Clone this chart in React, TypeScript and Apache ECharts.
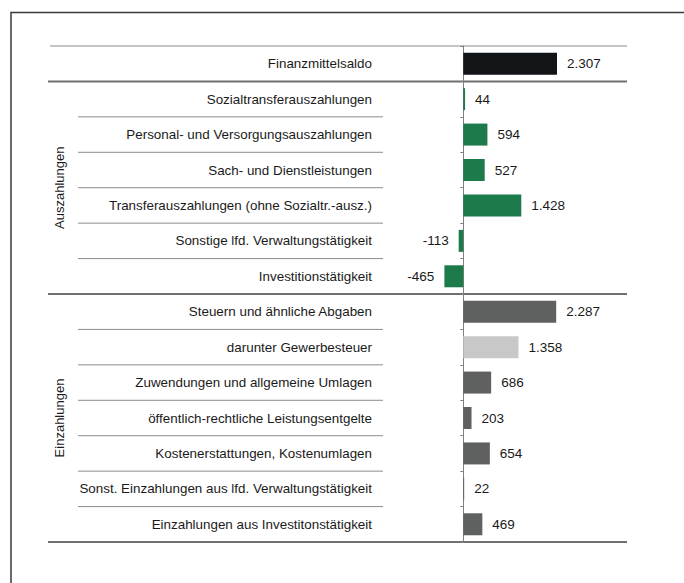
import React, { useEffect, useRef } from "react";
import * as echarts from "echarts";

// ---- data ----
const categories: string[] = [
  "Finanzmittelsaldo",
  "Sozialtransferauszahlungen",
  "Personal- und Versorgungsauszahlungen",
  "Sach- und Dienstleistungen",
  "Transferauszahlungen (ohne Sozialtr.-ausz.)",
  "Sonstige lfd. Verwaltungstätigkeit",
  "Investitionstätigkeit",
  "Steuern und ähnliche Abgaben",
  "darunter Gewerbesteuer",
  "Zuwendungen und allgemeine Umlagen",
  "öffentlich-rechtliche Leistungsentgelte",
  "Kostenerstattungen, Kostenumlagen",
  "Sonst. Einzahlungen aus lfd. Verwaltungstätigkeit",
  "Einzahlungen aus Investitonstätigkeit",
];
const values: number[] = [2307, 44, 594, 527, 1428, -113, -465, 2287, 1358, 686, 203, 654, 22, 469];
const kinds: string[] = [
  "saldo",
  "aus", "aus", "aus", "aus", "aus", "aus",
  "ein", "gew", "ein", "ein", "ein", "ein", "ein",
];
const groupLabels: string[] = ["Auszahlungen", "Einzahlungen"];
const groupFirst: number[] = [1, 7];
const groupLast: number[] = [6, 13];

// ---- styles ----
const palette: Record<string, string> = {
  saldo: "#121518",
  aus: "#1d7a4b",
  ein: "#5f6161",
  gew: "#c7c8c7",
};
const FONT = "'Liberation Sans', Arial, Helvetica, sans-serif";

function fmt(v: number): string {
  const s = String(Math.abs(v)).replace(/\B(?=(\d{3})+(?!\d))/g, ".");
  return (v < 0 ? "-" : "") + s;
}

export default function App() {
  const ref = useRef<HTMLDivElement>(null);
  useEffect(() => {
    if (!ref.current) return;
    const chart = echarts.init(ref.current, null, { renderer: "svg" });
    const option: any = {
      animation: false,
      backgroundColor: "#ffffff",
      grid: { left: 380, right: 57, top: 46, bottom: 41, containLabel: false },
      xAxis: {
        type: "value",
        min: -2050,
        max: 4030,
        show: false,
        splitLine: { show: false },
      },
      yAxis: [
        {
          type: "category",
          data: categories,
          inverse: true,
          position: "left",
          axisLine: { show: false, onZero: false },
          axisTick: { show: false },
          splitLine: { show: false },
          axisLabel: {
            margin: 8,
            fontSize: 13.4,
            color: "#1a1a1a",
            fontFamily: FONT,
          },
        },
        {
          type: "category",
          data: categories,
          inverse: true,
          position: "left",
          axisLine: { show: true, onZero: true, lineStyle: { color: "#808080", width: 1 } },
          axisTick: { show: true, length: 3, lineStyle: { color: "#808080", width: 1 } },
          axisLabel: { show: false },
          splitLine: { show: false },
        },
      ],
      series: [
        {
          type: "bar",
          yAxisIndex: 0,
          barWidth: 22,
          data: values.map((v, i) => ({
            value: v,
            itemStyle: { color: palette[kinds[i]] },
            label: { position: v < 0 ? "left" : "right" },
          })),
          label: {
            show: true,
            distance: 10,
            fontSize: 13.5,
            color: "#1a1a1a",
            fontFamily: FONT,
            formatter: (p: any) => fmt(p.value),
          },
        },
      ],
    };
    chart.setOption(option);

    const centers = categories.map((_, i) => chart.convertToPixel({ yAxisIndex: 0 }, i) as number);
    const band = centers[1] - centers[0];
    const bounds: number[] = centers.map((c) => c - band / 2);
    bounds.push(centers[centers.length - 1] + band / 2);

    const graphics: any[] = [];
    // outer frame (top & left edges)
    graphics.push({
      type: "polyline",
      shape: { points: [[11, 583], [11, 12.5], [684, 12.5]] },
      style: { stroke: "#3a3a3a", lineWidth: 1.5, fill: null },
      silent: true,
    });
    const thick = new Set([1, 7, categories.length]);
    bounds.forEach((y, i) => {
      if (i === 0) {
        graphics.push({
          type: "line",
          shape: { x1: 50, y1: y, x2: 627, y2: y },
          style: { stroke: "#8c8c8c", lineWidth: 1 },
          silent: true,
        });
      } else if (thick.has(i)) {
        graphics.push({
          type: "line",
          shape: { x1: 48, y1: y, x2: 627, y2: y },
          style: { stroke: "#707070", lineWidth: 2 },
          silent: true,
        });
      } else {
        graphics.push({
          type: "line",
          shape: { x1: 78, y1: y, x2: 383, y2: y },
          style: { stroke: "#8c8c8c", lineWidth: 1 },
          silent: true,
        });
      }
    });
    groupLabels.forEach((g, k) => {
      const cy = (bounds[groupFirst[k]] + bounds[groupLast[k] + 1]) / 2;
      graphics.push({
        type: "text",
        x: 59,
        y: cy,
        rotation: Math.PI / 2,
        style: {
          text: g,
          fontSize: 13,
          fontFamily: FONT,
          fill: "#1a1a1a",
          align: "center",
          verticalAlign: "middle",
        },
        silent: true,
      });
    });
    chart.setOption({ graphic: graphics });

    return () => chart.dispose();
  }, []);
  return (
    <div
      ref={ref}
      style={{ position: "fixed", left: 0, top: 0, width: 684, height: 583, background: "#fff" }}
    />
  );
}
